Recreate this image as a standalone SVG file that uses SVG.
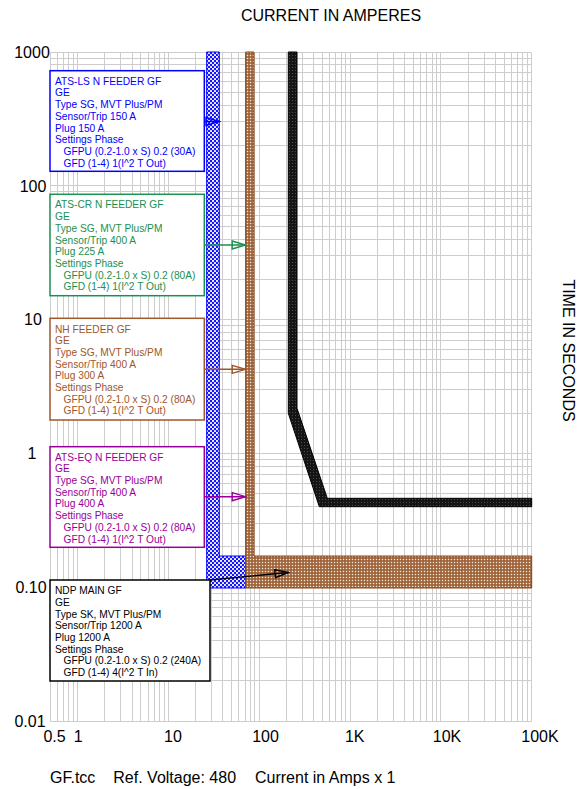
<svg xmlns="http://www.w3.org/2000/svg" width="584" height="789" viewBox="0 0 584 789">
<style>
text{font-family:"Liberation Sans",Arial,sans-serif;}
.ax{font-size:16px;fill:#000;}
.yl{text-anchor:middle;}
.xl{text-anchor:middle;}
.lbl{font-size:10.2px;}
.grid{stroke:#cdcdcd;stroke-width:1;fill:none;}
.box{fill:#fff;stroke-width:1.5;}
.arr{fill:none;stroke-width:1.4;}
</style>
<defs>
<pattern id="pBlue" width="4" height="4" patternUnits="userSpaceOnUse">
<rect width="4" height="4" fill="#1414ff"/>
<circle cx="1" cy="1" r="1.1" fill="#ffffff"/>
<circle cx="3" cy="3" r="1.1" fill="#ffffff"/>
</pattern>
<pattern id="pBrown" width="3" height="3" patternUnits="userSpaceOnUse">
<rect width="3" height="3" fill="#9c5f35"/>
<rect x="0.8" y="0.8" width="1.4" height="1.4" fill="#f4e6d8"/>
</pattern>
<pattern id="pBlack" width="3" height="3" patternUnits="userSpaceOnUse">
<rect width="3" height="3" fill="#151515"/>
<rect x="1" y="1" width="1" height="1" fill="#4a4a4a"/>
</pattern>
<marker id="mBlue" markerUnits="userSpaceOnUse" markerWidth="16" markerHeight="10" refX="13.3" refY="4" orient="auto" overflow="visible"><path d="M0,0 L13.3,4 L0,8 Z" fill="none" stroke="#0000ff" stroke-width="1.4"/></marker>
<marker id="mGreen" markerUnits="userSpaceOnUse" markerWidth="16" markerHeight="10" refX="13.3" refY="4" orient="auto" overflow="visible"><path d="M0,0 L13.3,4 L0,8 Z" fill="none" stroke="#1a9050" stroke-width="1.4"/></marker>
<marker id="mBrown" markerUnits="userSpaceOnUse" markerWidth="16" markerHeight="10" refX="13.3" refY="4" orient="auto" overflow="visible"><path d="M0,0 L13.3,4 L0,8 Z" fill="none" stroke="#a0562a" stroke-width="1.4"/></marker>
<marker id="mPurple" markerUnits="userSpaceOnUse" markerWidth="16" markerHeight="10" refX="13.3" refY="4" orient="auto" overflow="visible"><path d="M0,0 L13.3,4 L0,8 Z" fill="none" stroke="#990099" stroke-width="1.4"/></marker>
<marker id="mBlack" markerUnits="userSpaceOnUse" markerWidth="16" markerHeight="10" refX="13.3" refY="4" orient="auto" overflow="visible"><path d="M0,0 L13.3,4 L0,8 Z" fill="none" stroke="#000" stroke-width="1.4"/></marker>
</defs>
<rect width="584" height="789" fill="#fff"/>

<g id="grid" class="grid">
<path d="M50.5,52.5V721.5M57.5,52.5V721.5M63.5,52.5V721.5M68.5,52.5V721.5M73.5,52.5V721.5
M77.5,52.5V721.5M104.5,52.5V721.5M120.5,52.5V721.5M132.5,52.5V721.5M140.5,52.5V721.5M148.5,52.5V721.5M154.5,52.5V721.5M159.5,52.5V721.5M164.5,52.5V721.5
M168.5,52.5V721.5M195.5,52.5V721.5M211.5,52.5V721.5M222.5,52.5V721.5M231.5,52.5V721.5M238.5,52.5V721.5M245.5,52.5V721.5M250.5,52.5V721.5M254.5,52.5V721.5
M259.5,52.5V721.5M286.5,52.5V721.5M302.5,52.5V721.5M313.5,52.5V721.5M322.5,52.5V721.5M329.5,52.5V721.5M335.5,52.5V721.5M341.5,52.5V721.5M345.5,52.5V721.5
M350.5,52.5V721.5M377.5,52.5V721.5M393.5,52.5V721.5M404.5,52.5V721.5M413.5,52.5V721.5M420.5,52.5V721.5M426.5,52.5V721.5M432.5,52.5V721.5M436.5,52.5V721.5
M440.5,52.5V721.5M468.5,52.5V721.5M484.5,52.5V721.5M495.5,52.5V721.5M504.5,52.5V721.5M511.5,52.5V721.5M517.5,52.5V721.5M522.5,52.5V721.5M527.5,52.5V721.5M531.5,52.5V721.5"/>
<path d="M50.5,52.5H531.5M50.5,58.5H531.5M50.5,64.5H531.5M50.5,72.5H531.5M50.5,81.5H531.5M50.5,92.5H531.5M50.5,105.5H531.5M50.5,121.5H531.5M50.5,145.5H531.5
M50.5,185.5H531.5M50.5,191.5H531.5M50.5,198.5H531.5M50.5,206.5H531.5M50.5,215.5H531.5M50.5,226.5H531.5M50.5,239.5H531.5M50.5,255.5H531.5M50.5,279.5H531.5
M50.5,319.5H531.5M50.5,325.5H531.5M50.5,332.5H531.5M50.5,340.5H531.5M50.5,349.5H531.5M50.5,359.5H531.5M50.5,372.5H531.5M50.5,389.5H531.5M50.5,413.5H531.5
M50.5,453.5H531.5M50.5,459.5H531.5M50.5,466.5H531.5M50.5,474.5H531.5M50.5,483.5H531.5M50.5,493.5H531.5M50.5,506.5H531.5M50.5,523.5H531.5M50.5,546.5H531.5
M50.5,587.5H531.5M50.5,593.5H531.5M50.5,600.5H531.5M50.5,607.5H531.5M50.5,616.5H531.5M50.5,627.5H531.5M50.5,640.5H531.5M50.5,657.5H531.5M50.5,680.5H531.5M50.5,721.5H531.5"/>
</g>

<g id="axes">
<text class="ax" x="331" y="20.7" text-anchor="middle">CURRENT IN AMPERES</text>
<text class="ax yl" x="32" y="57.5">1000</text>
<text class="ax yl" x="33" y="191.5">100</text>
<text class="ax yl" x="33" y="325.4">10</text>
<text class="ax yl" x="32" y="459.2">1</text>
<text class="ax yl" x="31" y="593.2">0.10</text>
<text class="ax yl" x="30" y="726.8">0.01</text>
<text class="ax xl" x="54.5" y="741.6">0.5</text>
<text class="ax xl" x="78.3" y="741.6">1</text>
<text class="ax xl" x="173" y="741.6">10</text>
<text class="ax xl" x="265.5" y="741.6">100</text>
<text class="ax xl" x="354.7" y="741.6">1K</text>
<text class="ax xl" x="447" y="741.6">10K</text>
<text class="ax xl" x="540" y="741.6">100K</text>
<text class="ax" x="562.7" y="350.5" text-anchor="middle" transform="rotate(90 562.7 350.5)">TIME IN SECONDS</text>
<text class="ax" x="50" y="782.7">GF.tcc</text>
<text class="ax" x="113.3" y="782.7">Ref. Voltage: 480</text>
<text class="ax" x="255" y="782.7">Current in Amps x 1</text>
</g>

<g id="curve-ats-ls">
<path d="M206.7,52 H219.3 V556 H245.7 V588 H206.7 Z" fill="url(#pBlue)" stroke="#0000ff" stroke-width="1"/>
</g>
<g id="curve-nh">
<path d="M245.7,52 H254 V556 H531.7 V588 H245.7 Z" fill="url(#pBrown)" stroke="#8b4513" stroke-width="1"/>
</g>
<g id="curve-ndp-main">
<path d="M288.3,52 H297 V408.3 L327.3,498.3 H531.7 V506.7 H319.3 L288.3,413.3 Z" fill="url(#pBlack)" stroke="#000" stroke-width="1"/>
</g>

<g id="connectors">
<path class="arr" d="M204.3,121.5 H219.3" stroke="#0000ff" marker-end="url(#mBlue)"/>
<path class="arr" d="M204.3,245 H245.5" stroke="#1a9050" marker-end="url(#mGreen)"/>
<path class="arr" d="M204.3,369.3 H245.5" stroke="#a0562a" marker-end="url(#mBrown)"/>
<path class="arr" d="M204.3,496.7 H245.5" stroke="#990099" marker-end="url(#mPurple)"/>
<path class="arr" d="M210,580 L288.3,572.5" stroke="#000" marker-end="url(#mBlack)"/>
</g>

<g id="node-ats-ls">
<rect class="box" x="50" y="70.7" width="154.3" height="100.6" stroke="#0000ff"/>
<text class="lbl" fill="#0000ff" y="84.7"><tspan x="55">ATS-LS N FEEDER GF</tspan><tspan x="55" dy="11.7">GE</tspan><tspan x="55" dy="11.7">Type SG, MVT Plus/PM</tspan><tspan x="55" dy="11.7">Sensor/Trip 150 A</tspan><tspan x="55" dy="11.7">Plug 150 A</tspan><tspan x="55" dy="11.7">Settings Phase</tspan><tspan x="63.5" dy="11.7">GFPU (0.2-1.0 x S) 0.2 (30A)</tspan><tspan x="63.5" dy="11.7">GFD (1-4) 1(I^2 T Out)</tspan></text>
</g>
<g id="node-ats-cr">
<rect class="box" x="50" y="194.3" width="154.3" height="101.4" stroke="#1a9050"/>
<text class="lbl" fill="#1a9050" y="208.4"><tspan x="55">ATS-CR N FEEDER GF</tspan><tspan x="55" dy="11.7">GE</tspan><tspan x="55" dy="11.7">Type SG, MVT Plus/PM</tspan><tspan x="55" dy="11.7">Sensor/Trip 400 A</tspan><tspan x="55" dy="11.7">Plug 225 A</tspan><tspan x="55" dy="11.7">Settings Phase</tspan><tspan x="63.5" dy="11.7">GFPU (0.2-1.0 x S) 0.2 (80A)</tspan><tspan x="63.5" dy="11.7">GFD (1-4) 1(I^2 T Out)</tspan></text>
</g>
<g id="node-nh">
<rect class="box" x="50" y="318.3" width="154.3" height="101.7" stroke="#a0562a"/>
<text class="lbl" fill="#a0562a" y="332.5"><tspan x="55">NH FEEDER GF</tspan><tspan x="55" dy="11.7">GE</tspan><tspan x="55" dy="11.7">Type SG, MVT Plus/PM</tspan><tspan x="55" dy="11.7">Sensor/Trip 400 A</tspan><tspan x="55" dy="11.7">Plug 300 A</tspan><tspan x="55" dy="11.7">Settings Phase</tspan><tspan x="63.5" dy="11.7">GFPU (0.2-1.0 x S) 0.2 (80A)</tspan><tspan x="63.5" dy="11.7">GFD (1-4) 1(I^2 T Out)</tspan></text>
</g>
<g id="node-ats-eq">
<rect class="box" x="50" y="446.7" width="154.3" height="100.6" stroke="#990099"/>
<text class="lbl" fill="#990099" y="460.6"><tspan x="55">ATS-EQ N FEEDER GF</tspan><tspan x="55" dy="11.7">GE</tspan><tspan x="55" dy="11.7">Type SG, MVT Plus/PM</tspan><tspan x="55" dy="11.7">Sensor/Trip 400 A</tspan><tspan x="55" dy="11.7">Plug 400 A</tspan><tspan x="55" dy="11.7">Settings Phase</tspan><tspan x="63.5" dy="11.7">GFPU (0.2-1.0 x S) 0.2 (80A)</tspan><tspan x="63.5" dy="11.7">GFD (1-4) 1(I^2 T Out)</tspan></text>
</g>
<g id="node-ndp-main">
<rect class="box" x="50" y="580" width="160" height="101" stroke="#000"/>
<text class="lbl" fill="#000" y="594.2"><tspan x="55">NDP MAIN GF</tspan><tspan x="55" dy="11.7">GE</tspan><tspan x="55" dy="11.7">Type SK, MVT Plus/PM</tspan><tspan x="55" dy="11.7">Sensor/Trip 1200 A</tspan><tspan x="55" dy="11.7">Plug 1200 A</tspan><tspan x="55" dy="11.7">Settings Phase</tspan><tspan x="63.5" dy="11.7">GFPU (0.2-1.0 x S) 0.2 (240A)</tspan><tspan x="63.5" dy="11.7">GFD (1-4) 4(I^2 T In)</tspan></text>
</g>
</svg>
